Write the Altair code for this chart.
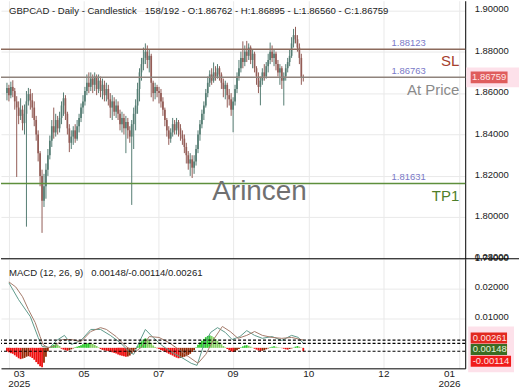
import altair as alt
import pandas as pd

FONT = "Liberation Sans"
NB = "\u00a0"

title_text = "GBPCAD - Daily - Candlestick" + NB * 3 + "158/192 - O:1.86762 - H:1.86895 - L:1.86560 - C:1.86759"
macd_title_text = "MACD (12, 26, 9)" + NB * 3 + "0.00148/-0.00114/0.00261"

# ---------------- price data (bar index 0..152) ----------------
first_open = 1.8600
closes = [
    1.8625, 1.8590, 1.8630, 1.8610, 1.8560, 1.8530, 1.8490, 1.8520, 1.8455, 1.8500,
    1.8560, 1.8595, 1.8565, 1.8530, 1.8470, 1.8400, 1.8310, 1.8200, 1.8080, 1.8150,
    1.8230, 1.8300, 1.8370, 1.8440, 1.8410, 1.8470, 1.8430, 1.8480, 1.8540, 1.8575,
    1.8500, 1.8430, 1.8360, 1.8390, 1.8420, 1.8380, 1.8440, 1.8480, 1.8530, 1.8560,
    1.8610, 1.8650, 1.8630, 1.8670, 1.8640, 1.8680, 1.8620, 1.8660, 1.8610, 1.8640,
    1.8590, 1.8620, 1.8570, 1.8530, 1.8560, 1.8510, 1.8540, 1.8500, 1.8450, 1.8480,
    1.8430, 1.8460, 1.8420, 1.8390, 1.8450, 1.8500, 1.8540, 1.8620, 1.8700, 1.8740,
    1.8770, 1.8800, 1.8760, 1.8780, 1.8650, 1.8600, 1.8630, 1.8610, 1.8600, 1.8560,
    1.8520, 1.8470, 1.8420, 1.8380, 1.8410, 1.8450, 1.8420, 1.8460, 1.8430, 1.8400,
    1.8380, 1.8340, 1.8300, 1.8260, 1.8280, 1.8240, 1.8270, 1.8330, 1.8400, 1.8450,
    1.8500, 1.8540, 1.8600, 1.8650, 1.8690, 1.8660, 1.8700, 1.8680, 1.8720, 1.8690,
    1.8650, 1.8620, 1.8640, 1.8590, 1.8570, 1.8520, 1.8560, 1.8620, 1.8680, 1.8720,
    1.8770, 1.8750, 1.8800, 1.8780, 1.8820, 1.8760, 1.8790, 1.8720, 1.8680, 1.8630,
    1.8660, 1.8700, 1.8680, 1.8730, 1.8760, 1.8800, 1.8770, 1.8790, 1.8740, 1.8700,
    1.8720, 1.8660, 1.8680, 1.8720, 1.8750, 1.8780, 1.8840, 1.8880, 1.8860, 1.8820,
    1.8770, 1.86762, 1.86759,
]
highs = [
    1.8650, 1.8640, 1.8655, 1.8662, 1.8625, 1.8585, 1.8560, 1.8575, 1.8540, 1.8545,
    1.8610, 1.8625, 1.8620, 1.8600, 1.8560, 1.8490, 1.8420, 1.8320, 1.8230, 1.8210,
    1.8260, 1.8330, 1.8395, 1.8470, 1.8530, 1.8500, 1.8490, 1.8510, 1.8560, 1.8603,
    1.8590, 1.8510, 1.8450, 1.8420, 1.8440, 1.8450, 1.8470, 1.8500, 1.8550, 1.8590,
    1.8630, 1.8690, 1.8700, 1.8700, 1.8690, 1.8700, 1.8690, 1.8690, 1.8680, 1.8670,
    1.8660, 1.8650, 1.8640, 1.8600, 1.8590, 1.8580, 1.8570, 1.8560, 1.8520, 1.8510,
    1.8500, 1.8490, 1.8480, 1.8440, 1.8470, 1.8530, 1.8570, 1.8650, 1.8720, 1.8770,
    1.8820, 1.8840, 1.8830, 1.8810, 1.8790, 1.8660, 1.8650, 1.8640, 1.8630, 1.8620,
    1.8580, 1.8530, 1.8480, 1.8440, 1.8430, 1.8480, 1.8470, 1.8480, 1.8470, 1.8450,
    1.8420, 1.8400, 1.8360, 1.8320, 1.8310, 1.8300, 1.8300, 1.8350, 1.8420, 1.8470,
    1.8520, 1.8560, 1.8620, 1.8680, 1.8710, 1.8720, 1.8748, 1.8730, 1.8740, 1.8730,
    1.8700, 1.8670, 1.8660, 1.8650, 1.8620, 1.8600, 1.8580, 1.8640, 1.8700, 1.8760,
    1.8800, 1.8850, 1.8830, 1.8852, 1.8840, 1.8830, 1.8810, 1.8800, 1.8730, 1.8700,
    1.8680, 1.8720, 1.8740, 1.8750, 1.8790, 1.8844, 1.8830, 1.8810, 1.8800, 1.8760,
    1.8740, 1.8730, 1.8700, 1.8740, 1.8770, 1.8810, 1.8870, 1.8910, 1.8920, 1.8880,
    1.8840, 1.8790, 1.86895,
]
lows = [
    1.8565, 1.8560, 1.8575, 1.8580, 1.8520, 1.8195, 1.8450, 1.8470, 1.8420, 1.8400,
    1.7955, 1.8540, 1.8520, 1.8480, 1.8440, 1.8370, 1.8270, 1.8150, 1.7925, 1.8050,
    1.8090, 1.8200, 1.8280, 1.8340, 1.8380, 1.8390, 1.8400, 1.8410, 1.8450, 1.8490,
    1.8470, 1.8400, 1.8315, 1.8330, 1.8350, 1.8360, 1.8370, 1.8410, 1.8460, 1.8500,
    1.8540, 1.8590, 1.8600, 1.8610, 1.8600, 1.8610, 1.8590, 1.8600, 1.8580, 1.8570,
    1.8560, 1.8560, 1.8540, 1.8480, 1.8470, 1.8490, 1.8480, 1.8470, 1.8420, 1.8410,
    1.8400, 1.8310, 1.8380, 1.8360, 1.8060, 1.8330, 1.8420, 1.8500, 1.8560, 1.8660,
    1.8710, 1.8740, 1.8720, 1.8700, 1.8580, 1.8560, 1.8570, 1.8580, 1.8550, 1.8530,
    1.8490, 1.8440, 1.8390, 1.8350, 1.8360, 1.8390, 1.8400, 1.8400, 1.8390, 1.8370,
    1.8350, 1.8310, 1.8260, 1.8230, 1.8200, 1.8190, 1.8210, 1.8250, 1.8310, 1.8370,
    1.8430, 1.8470, 1.8530, 1.8580, 1.8630, 1.8640, 1.8650, 1.8660, 1.8670, 1.8660,
    1.8620, 1.8580, 1.8570, 1.8530, 1.8540, 1.8490, 1.8411, 1.8540, 1.8600, 1.8660,
    1.8700, 1.8720, 1.8730, 1.8750, 1.8760, 1.8740, 1.8720, 1.8700, 1.8640, 1.8600,
    1.8541, 1.8640, 1.8660, 1.8670, 1.8700, 1.8740, 1.8750, 1.8730, 1.8710, 1.8680,
    1.8640, 1.8620, 1.8540, 1.8660, 1.8700, 1.8730, 1.8770, 1.8820, 1.8840, 1.8800,
    1.8740, 1.8640, 1.86560,
]

# ---------------- levels ----------------
level_values = [1.88123, 1.86763, 1.81631]
level_tags = ["1.88123", "1.86763", "1.81631"]
level_names = ["SL", "At Price", "TP1"]
level_line_colors = ["#8c6a5c", "#8f837c", "#5e8f3c"]
level_name_colors = ["#a5412d", "#8a8a8a", "#4e7e2a"]
level_name_dy = [12, 13, 13]
last_price = [1.86759]
last_price_text = ["1.86759"]

price_ticks = [1.78, 1.79, 1.80, 1.81, 1.82, 1.83, 1.84, 1.85, 1.86, 1.87, 1.88, 1.89, 1.90]
grid_ticks = [1.0, 39.5, 77.85, 116.0, 154.75, 193.25, 231.75]
month_labels = ["03", "05", "07", "09", "10", "12", "01"]
month_pos = [6.35, 39.5, 77.85, 116.0, 154.85, 193.35, 227.0]
year_labels = ["2025", "2026"]
year_pos = [6.35, 227.0]

# ---------------- MACD ----------------
hist = [
    -0.0012, -0.0015, -0.0018, -0.0020, -0.0025,
    -0.0030, -0.0035, -0.0038, -0.0036, -0.0034,
    -0.0030, -0.0028, -0.0030, -0.0034, -0.0040,
    -0.0048, -0.0055, -0.0062, -0.0065, -0.0050,
    -0.0030, -0.0012, 0.0003,
    0.0008, 0.0010, 0.0012, 0.0010, 0.0006,
    -0.0003, -0.0006, -0.0008, -0.0010, -0.0008,
    -0.0005, -0.0002, 0.0002, 0.0004, 0.0006,
    0.0009, 0.0012, 0.0014, 0.0015, 0.0016, 0.0015, 0.0013, 0.0010, 0.0006, 0.0002,
    -0.0004, -0.0007, -0.0009, -0.0010, -0.0011, -0.0013, -0.0015,
    -0.0017, -0.0019, -0.0022, -0.0025, -0.0027, -0.0028, -0.0030, -0.0029, -0.0026, -0.0020, -0.0012, -0.0004,
    0.0006, 0.0014, 0.0022, 0.0028, 0.0032, 0.0030, 0.0024, 0.0016, 0.0008,
    0.0003, -0.0001, -0.0004, -0.0007,
    -0.0010, -0.0013, -0.0016, -0.0020, -0.0023, -0.0026, -0.0030, -0.0033, -0.0035,
    -0.0034, -0.0032, -0.0030, -0.0028, -0.0024, -0.0020, -0.0014, -0.0008,
    0.0002, 0.0010, 0.0018, 0.0024, 0.0030, 0.0036, 0.0040, 0.0042,
    0.0040, 0.0036, 0.0030, 0.0024, 0.0018, 0.0012, 0.0006, 0.0002,
    -0.0004, -0.0008, -0.0012, -0.0014, -0.0012, -0.0008, -0.0004,
    0.0002, 0.0005, 0.0008, 0.0009, 0.0007, 0.0004, 0.0001,
    -0.0003, -0.0006, -0.0009, -0.0011, -0.0010, -0.0008, -0.0005, -0.0002,
    0.0002, 0.0004, 0.0005, 0.0004, 0.0002, 0.0001, -0.0001,
    -0.0003, -0.0005, -0.0006, -0.0004, -0.0002, 0.0001,
    0.0004, 0.0006, 0.0004, 0.0001, -0.00114,
]
macd_i = [1.0, 6.0, 12.0, 16.0, 18.0, 22.0, 25.5, 29.5, 33.0, 38.0, 43.0, 48.0, 53.0,
          58.0, 63.0, 65.0, 68.0, 71.0, 74.5, 79.5, 84.5, 89.5, 94.5, 97.5, 101.0,
          104.5, 108.0, 112.0, 115.5, 119.5, 123.0, 127.0, 131.0, 136.0, 141.0,
          146.0, 149.5, 152.0]
macd_v = [0.0219, 0.0162, 0.0105, 0.0035, 0.0005, 0.0001, 0.0025, 0.0042, 0.0011,
          0.0025, 0.0062, 0.0062, 0.0042, 0.0018, -0.0015, -0.0022, 0.0021, 0.0062,
          0.0038, 0.0008, -0.0015, -0.0032, -0.0052, -0.0059, 0.0011, 0.0052, 0.0068,
          0.0052, 0.0028, 0.0038, 0.0058, 0.0042, 0.0032, 0.0038, 0.0025, 0.0042,
          0.0035, 0.00148]
signal_i = [1.0, 4.5, 8.0, 11.0, 14.5, 17.0, 18.5, 21.0, 24.5, 28.5, 33.0, 38.0, 43.0,
            48.0, 51.0, 56.0, 61.0, 65.5, 69.5, 73.0, 78.0, 83.0, 88.0, 93.0, 98.0,
            102.0, 106.0, 110.5, 114.5, 118.5, 123.0, 127.0, 131.0, 136.0, 141.0,
            146.0, 152.0]
signal_v = [0.0222, 0.0205, 0.0172, 0.0129, 0.0085, 0.0038, 0.0011, 0.0001, 0.0005,
            0.0028, 0.0028, 0.0021, 0.0055, 0.0068, 0.0062, 0.0038, 0.0005, -0.0015,
            0.0005, 0.0038, 0.0035, 0.0018, -0.0005, -0.0029, -0.0052, -0.0022, 0.0028,
            0.0072, 0.0055, 0.0032, 0.0042, 0.0055, 0.0042, 0.0035, 0.0032, 0.0035,
            0.00261]
macd_levels = [0.00261, 0.00148, -0.00114]
macd_level_text = ["0.00261", "0.00148", "-0.00114"]
macd_tag_colors = ["#e2281f", "#3a6c22", "#f01b1b"]
macd_tag_text_colors = ["#ffe2e2", "#e4f2d8", "#ffe2e2"]
macd_tag_shift = [-2, 6, 10]
macd_tag_right = [508, 508, 512]
macd_ticks = [0.01, 0.02, 0.03]

# ---------------- styles ----------------
W = 466
H_MAIN = 259
H_MACD = 110
GRID = "#e9e9e9"
BULL = "#557d73"
BEAR = "#935c56"

xs = alt.Scale(domain=[-0.5, 232.5], nice=False, zero=False)
ys = alt.Scale(domain=[1.78, 1.9046], nice=False, zero=False)
ms = alt.Scale(domain=[-0.0069, 0.03], nice=False, zero=False)

n = len(closes)
opens = [first_open] + closes[:-1]
df = pd.DataFrame({"i": list(range(n)), "open": opens, "high": highs, "low": lows, "close": closes})
df["dir"] = ["up" if c >= o else "down" for o, c in zip(opens, closes)]

x_main = alt.X("i:Q", scale=xs, axis=alt.Axis(values=grid_ticks, grid=True, labels=False, ticks=False,
                                               domain=False, title=None, gridColor=GRID,
                                               minExtent=0, maxExtent=0, offset=0))
candle_color = alt.Color("dir:N", scale=alt.Scale(domain=["up", "down"], range=[BULL, BEAR]), legend=None)

wicks = alt.Chart(df).mark_rule(strokeWidth=1).encode(
    x=x_main,
    y=alt.Y("low:Q", scale=ys, axis=alt.Axis(orient="right", values=price_ticks, format=".5f", title=None,
                                              ticks=False, domainColor="#000000", labelPadding=9,
                                              labelFontSize=9.5, labelColor="#222222", gridColor=GRID,
                                              labelOffset=-1.5, labelOverlap=False)),
    y2="high:Q",
    color=candle_color,
)
bodies = alt.Chart(df).mark_bar(width=1.7).encode(
    x="i:Q", y=alt.Y("open:Q", title=None), y2="close:Q", color=candle_color,
)

layers = [wicks, bodies]

lv = pd.DataFrame({"v": level_values, "tag": level_tags, "name": level_names})
for k in range(len(level_values)):
    one = lv.iloc[[k]]
    layers.append(alt.Chart(one).mark_rule(strokeWidth=1.5, color=level_line_colors[k]).encode(
        y=alt.Y("v:Q", title=None)))
    layers.append(alt.Chart(one).mark_text(align="left", baseline="middle", fontSize=9.5, dy=-6.5,
                                           color="#7a7ac8").encode(
        x=alt.value(392), y=alt.Y("v:Q", title=None), text="tag:N"))
    layers.append(alt.Chart(one).mark_text(align="right", baseline="middle", fontSize=15,
                                           dy=level_name_dy[k], color=level_name_colors[k]).encode(
        x=alt.value(460), y=alt.Y("v:Q", title=None), text="name:N"))

wm = alt.Chart(pd.DataFrame({"t": ["Arincen"]})).mark_text(
    fontSize=28, color="#707070", align="center", baseline="middle").encode(
    x=alt.value(259.5), y=alt.value(192), text="t:N")
ttl = alt.Chart(pd.DataFrame({"t": [title_text]})).mark_text(
    fontSize=9.6, color="#222222", align="left", baseline="middle").encode(
    x=alt.value(8), y=alt.value(10), text="t:N")

lp = pd.DataFrame({"v": last_price, "t": last_price_text})
halo = alt.Chart(lp).mark_rect(color="#fde1ea", yOffset=-10, y2Offset=10).encode(
    x=alt.value(467), x2=alt.value(520), y=alt.Y("v:Q", title=None), y2="v:Q")
tag_box = alt.Chart(lp).mark_rect(color="#df5d5d", yOffset=-6, y2Offset=6).encode(
    x=alt.value(471.5), x2=alt.value(508.5), y=alt.Y("v:Q", title=None), y2="v:Q")
tag_txt = alt.Chart(lp).mark_text(color="#ffe6e6", fontSize=9.5, align="center", baseline="middle").encode(
    x=alt.value(490), y=alt.Y("v:Q", title=None), text="t:N")

layers += [wm, ttl, halo, tag_box, tag_txt]
main = alt.layer(*layers).properties(width=W, height=H_MAIN)

# ---------------- MACD panel ----------------
cats = []
for k, v in enumerate(hist):
    prev = hist[k - 1] if k > 0 else v
    if v >= 0:
        cats.append("pu" if v >= prev else "pd")
    else:
        cats.append("nd" if v <= prev else "nu")
hdf = pd.DataFrame({"i": list(range(n)), "h": hist, "c": cats})

x_macd = alt.X("i:Q", scale=xs, axis=alt.Axis(values=grid_ticks, grid=True, labels=False, ticks=False,
                                               domain=True, domainColor="#000000", title=None,
                                               gridColor=GRID, minExtent=0, offset=0))
hbars = alt.Chart(hdf).mark_bar(width=1.8).encode(
    x=x_macd,
    y=alt.Y("h:Q", scale=ms, axis=alt.Axis(orient="right", values=macd_ticks, format=".5f", title=None,
                                            ticks=False, domainColor="#000000", labelPadding=9,
                                            labelFontSize=9.5, labelColor="#222222", gridColor=GRID,
                                            labelOffset=-2, labelOverlap=False)),
    y2=alt.datum(0),
    color=alt.Color("c:N", scale=alt.Scale(domain=["pu", "pd", "nd", "nu"],
                                           range=["#2ecb2e", "#86cf62", "#ee1111", "#962a06"]), legend=None),
)
mline = alt.Chart(pd.DataFrame({"i": macd_i, "v": macd_v})).mark_line(strokeWidth=1, color="#5f9a8b").encode(
    x="i:Q", y=alt.Y("v:Q", title=None))
sline = alt.Chart(pd.DataFrame({"i": signal_i, "v": signal_v})).mark_line(strokeWidth=1, color="#a57b6b").encode(
    x="i:Q", y=alt.Y("v:Q", title=None))
dashes = alt.Chart(pd.DataFrame({"v": macd_levels})).mark_rule(
    strokeDash=[3, 2], color="#000000", strokeWidth=1.2).encode(y=alt.Y("v:Q", title=None))

mlayers = [hbars, mline, sline, dashes]
mlayers.append(alt.Chart(pd.DataFrame({"a": [0]})).mark_rect(color="#fde1ea").encode(
    x=alt.value(469), x2=alt.value(515), y=alt.value(68), y2=alt.value(114)))
tdf = pd.DataFrame({"v": macd_levels, "t": macd_level_text})
for k in range(len(macd_levels)):
    one = tdf.iloc[[k]]
    s = macd_tag_shift[k]
    mlayers.append(alt.Chart(one).mark_rect(color=macd_tag_colors[k], yOffset=s - 5.5, y2Offset=s + 5.5).encode(
        x=alt.value(471.5), x2=alt.value(macd_tag_right[k]), y=alt.Y("v:Q", title=None), y2="v:Q"))
    mlayers.append(alt.Chart(one).mark_text(color=macd_tag_text_colors[k], fontSize=9.5, align="left",
                                            baseline="middle", dy=s).encode(
        x=alt.value(473.5), y=alt.Y("v:Q", title=None), text="t:N"))

mlayers.append(alt.Chart(pd.DataFrame({"a": [0]})).mark_rule(color="#000000", strokeWidth=1).encode(
    x=alt.value(0), x2=alt.value(520), y=alt.value(0)))
mlayers.append(alt.Chart(pd.DataFrame({"t": [macd_title_text]})).mark_text(
    fontSize=9.6, color="#222222", align="left", baseline="middle").encode(
    x=alt.value(8), y=alt.value(14.5), text="t:N"))
mlayers.append(alt.Chart(pd.DataFrame({"p": month_pos, "t": month_labels})).mark_text(
    fontSize=10, color="#222222", align="center", baseline="middle").encode(
    x="p:Q", y=alt.value(116), text="t:N"))
mlayers.append(alt.Chart(pd.DataFrame({"p": year_pos, "t": year_labels})).mark_text(
    fontSize=10, color="#222222", align="center", baseline="middle").encode(
    x="p:Q", y=alt.value(125.5), text="t:N"))

macd = alt.layer(*mlayers).properties(width=W, height=H_MACD)

chart = alt.vconcat(main, macd, spacing=0, bounds="flush").resolve_scale(
    y="independent", color="independent"
).properties(
    padding={"left": 0, "right": 0, "top": 0, "bottom": 0},
    background="#ffffff",
).configure(font=FONT).configure_view(strokeWidth=0)

chart.save("out.html", embed_options={"renderer": "svg", "actions": False})
